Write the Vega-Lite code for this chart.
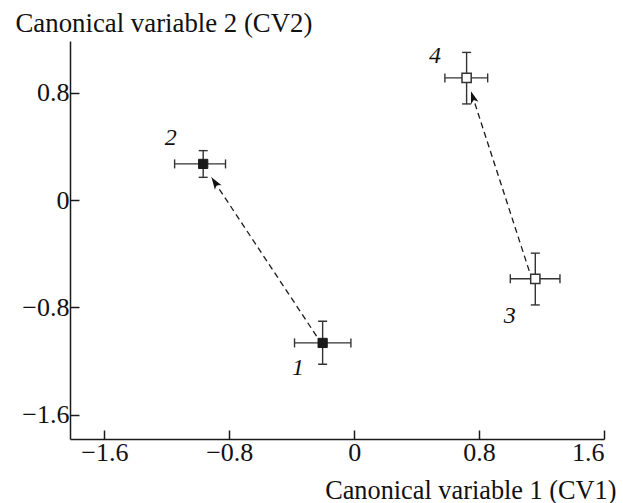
{
  "$schema": "https://vega.github.io/schema/vega-lite/v6.json",
  "autosize": "none",
  "width": 534,
  "height": 398,
  "padding": {"left": 70, "top": 41, "right": 19, "bottom": 64},
  "background": "white",
  "config": {
    "view": {"stroke": null},
    "axis": {
      "grid": false,
      "domainColor": "#1a1a1a",
      "domainWidth": 1.5,
      "tickColor": "#1a1a1a",
      "tickWidth": 1.5,
      "tickSize": -9,
      "labelFont": "Liberation Serif",
      "labelFontSize": 26,
      "labelColor": "#111",
      "titleFont": "Liberation Serif",
      "titleFontSize": 27,
      "titleFontWeight": "normal",
      "titleColor": "#111"
    }
  },
  "datasets": {
    "pts": [
      {"id": "1", "grp": "filled", "x": -0.202, "y": -1.065, "xlo": -0.382, "xhi": -0.021, "ylo": -1.224, "yhi": -0.903},
      {"id": "2", "grp": "filled", "x": -0.967, "y": 0.269, "xlo": -1.15, "xhi": -0.824, "ylo": 0.169, "yhi": 0.368},
      {"id": "3", "grp": "open", "x": 1.16, "y": -0.587, "xlo": 1.0, "xhi": 1.318, "ylo": -0.782, "yhi": -0.396},
      {"id": "4", "grp": "open", "x": 0.72, "y": 0.91, "xlo": 0.581, "xhi": 0.855, "ylo": 0.716, "yhi": 1.1}
    ],
    "labels": [
      {"label": "1", "lx": -0.359, "ly": -1.249},
      {"label": "2", "lx": -1.174, "ly": 0.465},
      {"label": "3", "lx": 0.997, "ly": -0.863},
      {"label": "4", "lx": 0.517, "ly": 1.072}
    ],
    "arrows": [
      {"arrow": "a", "x1": -0.241, "y1": -1.014, "x2": -0.914, "y2": 0.169},
      {"arrow": "b", "x1": 1.121, "y1": -0.528, "x2": 0.748, "y2": 0.81}
    ]
  },
  "layer": [
    {
      "data": {"name": "arrows"},
      "mark": {"type": "rule", "stroke": "#1a1a1a", "strokeWidth": 1.3, "strokeDash": [6, 4]},
      "encoding": {
        "x": {
          "field": "x1", "type": "quantitative",
          "scale": {"domain": [-1.82, 1.6], "nice": false, "zero": false},
          "axis": {
            "title": "Canonical variable 1 (CV1)",
            "values": [-1.6, -0.8, 0, 0.8, 1.6],
            "labelExpr": "datum.value == 0 ? '0' : format(datum.value, '.1f')",
            "labelPadding": 9,
            "titleFontSize": 26.3,
            "titleAngle": 0,
            "titleAlign": "right",
            "titleBaseline": "alphabetic",
            "titleX": 546,
            "titleY": 59
          }
        },
        "y": {
          "field": "y1", "type": "quantitative",
          "scale": {"domain": [-1.781, 1.185], "nice": false, "zero": false},
          "axis": {
            "title": "Canonical variable 2 (CV2)",
            "values": [-1.6, -0.8, 0, 0.8],
            "labelExpr": "datum.value == 0 ? '0' : format(datum.value, '.1f')",
            "labelPadding": 10,
            "titleFontSize": 26.8,
            "titleAngle": 0,
            "titleAlign": "left",
            "titleBaseline": "alphabetic",
            "titleX": -55,
            "titleY": -10
          }
        },
        "x2": {"field": "x2"},
        "y2": {"field": "y2"}
      }
    },
    {
      "data": {"name": "arrows"},
      "transform": [{"filter": "datum.arrow == 'a'"}],
      "mark": {"type": "point", "shape": "M0,0 L0.65,2 L0,1.5 L-0.65,2 Z", "filled": true, "color": "#111", "opacity": 1, "size": 150, "angle": 326.4},
      "encoding": {
        "x": {"field": "x2", "type": "quantitative", "scale": {"domain": [-1.82, 1.6], "nice": false, "zero": false}},
        "y": {"field": "y2", "type": "quantitative", "scale": {"domain": [-1.781, 1.185], "nice": false, "zero": false}}
      }
    },
    {
      "data": {"name": "arrows"},
      "transform": [{"filter": "datum.arrow == 'b'"}],
      "mark": {"type": "point", "shape": "M0,0 L0.65,2 L0,1.5 L-0.65,2 Z", "filled": true, "color": "#111", "opacity": 1, "size": 150, "angle": 342},
      "encoding": {
        "x": {"field": "x2", "type": "quantitative", "scale": {"domain": [-1.82, 1.6], "nice": false, "zero": false}},
        "y": {"field": "y2", "type": "quantitative", "scale": {"domain": [-1.781, 1.185], "nice": false, "zero": false}}
      }
    },
    {
      "data": {"name": "pts"},
      "mark": {"type": "rule", "stroke": "#333", "strokeWidth": 1.4},
      "encoding": {
        "x": {"field": "xlo", "type": "quantitative", "scale": {"domain": [-1.82, 1.6], "nice": false, "zero": false}},
        "x2": {"field": "xhi"},
        "y": {"field": "y", "type": "quantitative", "scale": {"domain": [-1.781, 1.185], "nice": false, "zero": false}}
      }
    },
    {
      "data": {"name": "pts"},
      "mark": {"type": "rule", "stroke": "#333", "strokeWidth": 1.4},
      "encoding": {
        "x": {"field": "x", "type": "quantitative", "scale": {"domain": [-1.82, 1.6], "nice": false, "zero": false}},
        "y": {"field": "ylo", "type": "quantitative", "scale": {"domain": [-1.781, 1.185], "nice": false, "zero": false}},
        "y2": {"field": "yhi"}
      }
    },
    {
      "data": {"name": "pts"},
      "mark": {"type": "tick", "orient": "vertical", "color": "#333", "size": 9, "thickness": 1.4, "opacity": 1},
      "encoding": {
        "x": {"field": "xlo", "type": "quantitative", "scale": {"domain": [-1.82, 1.6], "nice": false, "zero": false}},
        "y": {"field": "y", "type": "quantitative", "scale": {"domain": [-1.781, 1.185], "nice": false, "zero": false}}
      }
    },
    {
      "data": {"name": "pts"},
      "mark": {"type": "tick", "orient": "vertical", "color": "#333", "size": 9, "thickness": 1.4, "opacity": 1},
      "encoding": {
        "x": {"field": "xhi", "type": "quantitative", "scale": {"domain": [-1.82, 1.6], "nice": false, "zero": false}},
        "y": {"field": "y", "type": "quantitative", "scale": {"domain": [-1.781, 1.185], "nice": false, "zero": false}}
      }
    },
    {
      "data": {"name": "pts"},
      "mark": {"type": "tick", "orient": "horizontal", "color": "#333", "size": 9, "thickness": 1.4, "opacity": 1},
      "encoding": {
        "x": {"field": "x", "type": "quantitative", "scale": {"domain": [-1.82, 1.6], "nice": false, "zero": false}},
        "y": {"field": "ylo", "type": "quantitative", "scale": {"domain": [-1.781, 1.185], "nice": false, "zero": false}}
      }
    },
    {
      "data": {"name": "pts"},
      "mark": {"type": "tick", "orient": "horizontal", "color": "#333", "size": 9, "thickness": 1.4, "opacity": 1},
      "encoding": {
        "x": {"field": "x", "type": "quantitative", "scale": {"domain": [-1.82, 1.6], "nice": false, "zero": false}},
        "y": {"field": "yhi", "type": "quantitative", "scale": {"domain": [-1.781, 1.185], "nice": false, "zero": false}}
      }
    },
    {
      "data": {"name": "pts"},
      "transform": [{"filter": "datum.grp == 'filled'"}],
      "mark": {"type": "point", "shape": "square", "filled": true, "fill": "#1a1a1a", "stroke": "#1a1a1a", "strokeWidth": 1, "opacity": 1, "size": 85},
      "encoding": {
        "x": {"field": "x", "type": "quantitative", "scale": {"domain": [-1.82, 1.6], "nice": false, "zero": false}},
        "y": {"field": "y", "type": "quantitative", "scale": {"domain": [-1.781, 1.185], "nice": false, "zero": false}}
      }
    },
    {
      "data": {"name": "pts"},
      "transform": [{"filter": "datum.grp == 'open'"}],
      "mark": {"type": "point", "shape": "square", "filled": true, "fill": "white", "stroke": "#333", "strokeWidth": 1.5, "opacity": 1, "size": 85},
      "encoding": {
        "x": {"field": "x", "type": "quantitative", "scale": {"domain": [-1.82, 1.6], "nice": false, "zero": false}},
        "y": {"field": "y", "type": "quantitative", "scale": {"domain": [-1.781, 1.185], "nice": false, "zero": false}}
      }
    },
    {
      "data": {"name": "labels"},
      "mark": {"type": "text", "font": "Liberation Serif", "fontStyle": "italic", "fontSize": 24, "color": "#111", "align": "center", "baseline": "middle"},
      "encoding": {
        "x": {"field": "lx", "type": "quantitative", "scale": {"domain": [-1.82, 1.6], "nice": false, "zero": false}},
        "y": {"field": "ly", "type": "quantitative", "scale": {"domain": [-1.781, 1.185], "nice": false, "zero": false}},
        "text": {"field": "label"}
      }
    }
  ]
}
